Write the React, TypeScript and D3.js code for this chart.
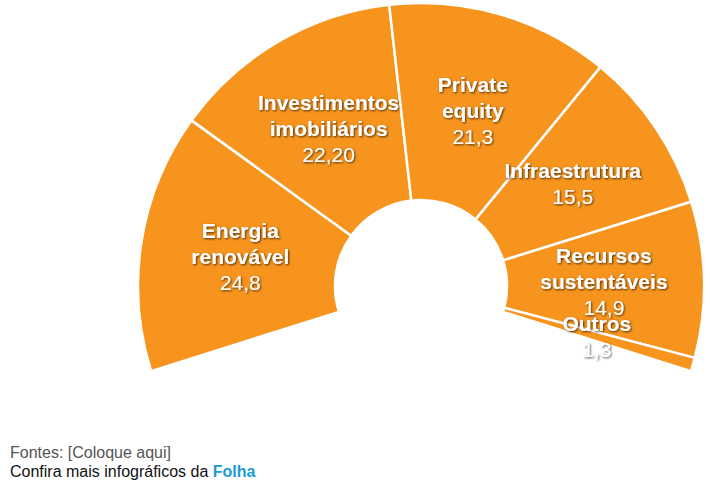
import React from "react";
import * as d3 from "d3";

const categories = ["Energia renovável", "Investimentos imobiliários", "Private equity", "Infraestrutura", "Recursos sustentáveis", "Outros"];
const nameLines = [["Energia", "renovável"], ["Investimentos", "imobiliários"], ["Private", "equity"], ["Infraestrutura"], ["Recursos", "sustentáveis"], ["Outros"]];
const values = [24.8, 22.2, 21.3, 15.5, 14.9, 1.3];
const valueLabels = ["24,8", "22,20", "21,3", "15,5", "14,9", "1,3"];

const W = 710;
const H = 484;
const CX = 421;
const CY = 286;
const R_IN = 86;
const R_OUT = 283;
const R_LABEL = 183;
const START = (-107.5 * Math.PI) / 180;
const END = (107.5 * Math.PI) / 180;
const ORANGE = "#F7941E";
const LINE_H = 26;

export default function App() {
  const pie = d3
    .pie<number>()
    .sort(null)
    .startAngle(START)
    .endAngle(END)
    .value((d) => d);
  const arcs = pie(values);
  const arc = d3.arc<d3.PieArcDatum<number>>().innerRadius(R_IN).outerRadius(R_OUT);
  const labelArc = d3.arc<d3.PieArcDatum<number>>().innerRadius(R_LABEL).outerRadius(R_LABEL);
  const font = "Arial, 'Liberation Sans', Helvetica, sans-serif";

  return (
    <svg
      width={W}
      height={H}
      style={{ position: "absolute", left: 0, top: 0, background: "#fff" }}
      fontFamily={font}
    >
      <defs>
        <filter id="shadow" x="-20%" y="-50%" width="140%" height="200%">
          <feDropShadow dx="1" dy="1" stdDeviation="1" floodColor="#000" floodOpacity="0.7" />
        </filter>
      </defs>
      <g transform={`translate(${CX},${CY})`}>
        {arcs.map((a, i) => (
          <path key={categories[i]} d={arc(a) || ""} fill={ORANGE} stroke="#fff" strokeWidth={2.5} strokeLinejoin="round" />
        ))}
        {arcs.map((a, i) => {
          const [x, y] = labelArc.centroid(a);
          const lines = [...nameLines[i], valueLabels[i]];
          const n = lines.length;
          return (
            <g key={"l" + i} filter="url(#shadow)">
              {lines.map((t, j) => (
                <text
                  key={j}
                  x={x}
                  y={y + (j - (n - 1) / 2) * LINE_H}
                  dy="0.36em"
                  textAnchor="middle"
                  fontSize={21}
                  fontWeight={j < n - 1 ? "bold" : "normal"}
                  fill="#fff"
                >
                  {t}
                </text>
              ))}
            </g>
          );
        })}
      </g>
      <text x={10} y={458} fontSize={16} fill="#555">
        Fontes: [Coloque aqui]
      </text>
      <text x={10} y={477} fontSize={16} fill="#111">
        Confira mais infográficos da{" "}
        <tspan fontWeight="bold" fill="#1A9AD7">
          Folha
        </tspan>
      </text>
    </svg>
  );
}
